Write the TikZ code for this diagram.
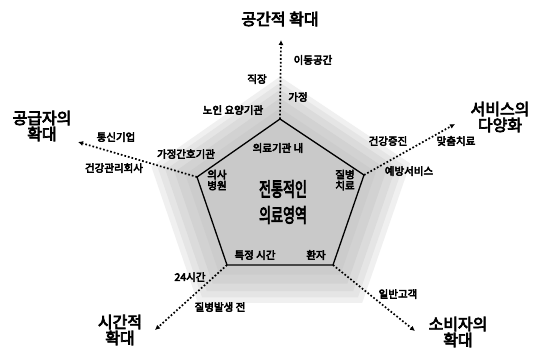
\documentclass[tikz,border=0pt]{standalone}
\usepackage{fontspec}
\newfontfamily\krb{Noto Sans CJK KR}
\newcommand\emboldentext{\special{pdf:literal direct 2 Tr}}
\usetikzlibrary{calc,arrows.meta}
\tikzset{
  lbl/.style={font=\krb\fontsize{10.5}{11}\selectfont\emboldentext, inner sep=0pt, align=center, line width=0.5pt},
  ttl/.style={font=\krb\fontsize{16}{16}\selectfont\emboldentext, inner sep=0pt, align=center, line width=0.7pt},
  ctr/.style={font=\krb\fontsize{13}{13}\selectfont\emboldentext, inner sep=0pt, line width=0.6pt},
  axis/.style={line width=1.7pt, dotted, -{Latex[length=5pt,width=5pt]}},
  pent/.style={line width=1.3pt, line join=miter},
}
\begin{document}
\begin{tikzpicture}[x=1pt,y=-1pt]
\useasboundingbox (0,0) rectangle (534,348);
\fill[white] (0,0) rectangle (534,348);
% pentagon corners
\coordinate (C) at (280,196);
\coordinate (T) at (280,119);
\coordinate (L) at (197,177);
\coordinate (R) at (364,175);
\coordinate (BL) at (227,265);
\coordinate (BR) at (333,265);
% soft gray halo
\foreach \s/\g in {1.55/12,1.47/20,1.38/28,1.27/35,1.14/40}{
  \fill[gray!\g] ($(C)!\s!(T)$) -- ($(C)!\s!(R)$) -- ($(C)!\s!(BR)$) -- ($(C)!\s!(BL)$) -- ($(C)!\s!(L)$) -- cycle;
}
\fill[gray!42] (T) -- (R) -- (BR) -- (BL) -- (L) -- cycle;
\draw[pent] (T) -- (R) -- (BR) -- (BL) -- (L) -- cycle;
% axis ends
\coordinate (eT) at (281,40);
\coordinate (eL) at (78,142);
\coordinate (eR) at (455,124);
\coordinate (eBL) at (155,330);
\coordinate (eBR) at (415,331);
\draw[axis] (T) -- (eT);
\draw[axis] (L) -- (eL);
\draw[axis] (R) -- (eR);
\draw[axis] (BL) -- (eBL);
\draw[axis] (BR) -- (eBR);
% titles
\node[ttl] (tTop) at (280,19) {공간적 확대};
\node[ttl] (tLeft) at (42,126) {공급자의\\확대};
\node[ttl] (tRight) at (500,117) {서비스의\\다양화};
\node[ttl] (tBL) at (120,330) {시간적\\확대};
\node[ttl] (tBR) at (458,332) {소비자의\\확대};
% center
\node[ctr] (c1) at (283,189) {\scalebox{1}[1.5]{전통적인}};
\node[ctr] (c2) at (283,215) {\scalebox{1}[1.5]{의료영역}};
% labels
\node[lbl] (a1) at (313,60) {이동공간};
\node[lbl] (a2) at (257,79) {직장};
\node[lbl] (a3) at (298,97) {가정};
\node[lbl] (a4) at (233,110) {노인 요양기관};
\node[lbl] (b1) at (116,137) {통신기업};
\node[lbl] (b2) at (186,154) {가정간호기관};
\node[lbl] (b3) at (114,168) {건강관리회사};
\node[lbl] (r1) at (388,141) {건강증진};
\node[lbl] (r2) at (456,141) {맞춤치료};
\node[lbl] (r3) at (409,171) {예방서비스};
\node[lbl] (i1) at (278,148) {의료기관 내};
\node[lbl] (i2) at (217,180) {의사\\병원};
\node[lbl] (i3) at (345,180) {질병\\치료};
\node[lbl] (i4) at (255,255) {특정 시간};
\node[lbl] (i5) at (316,255) {환자};
\node[lbl] (d1) at (190,277) {24시간};
\node[lbl] (d2) at (220,307) {질병발생 전};
\node[lbl] (e1) at (398,294) {일반고객};
\end{tikzpicture}
\end{document}
